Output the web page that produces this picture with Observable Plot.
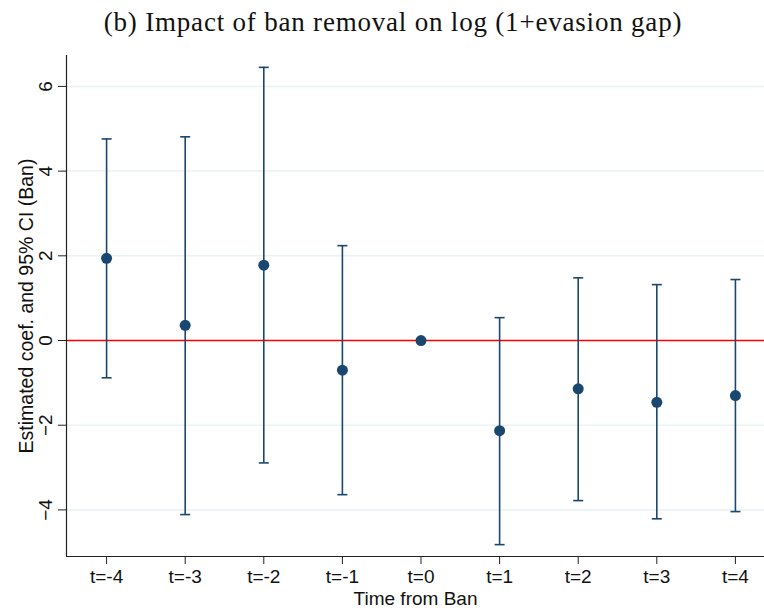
<!DOCTYPE html>
<html>
<head>
<meta charset="utf-8">
<script src="https://cdn.jsdelivr.net/npm/d3@7"></script>
<script src="https://cdn.jsdelivr.net/npm/@observablehq/plot@0.6"></script>
<style>
  html, body { margin: 0; padding: 0; background: #fff; }
  #wrap { position: relative; width: 764px; height: 608px; overflow: hidden; }
  #title { position: absolute; left: 393px; top: 4px; transform: translateX(-50%);
    white-space: nowrap; font-family: "Liberation Serif", "Times New Roman", serif;
    font-size: 27px; letter-spacing: 0.8px; color: #111; line-height: 36px; }
  #chart { position: absolute; left: 0; top: 44px; }
</style>
</head>
<body>
<div id="wrap">
  <div id="title">(b) Impact of ban removal on log (1+evasion gap)</div>
  <div id="chart"></div>
</div>
<script>
const periods = [-4, -3, -2, -1, 0, 1, 2, 3, 4];
const coef    = [1.94, 0.36, 1.78, -0.70, 0, -2.13, -1.14, -1.46, -1.30];
const ciLow   = [-0.88, -4.11, -2.89, -3.64, null, -4.82, -3.78, -4.21, -4.04];
const ciHigh  = [4.76, 4.81, 6.45, 2.24, null, 0.54, 1.48, 1.32, 1.44];
const yTicks  = [-4, -2, 0, 2, 4, 6];
const xDomain = [-4.51, 4.37];
const yDomain = [-5.10, 6.73];
const yLabel = "Estimated coef. and 95% CI (Ban)";
const xLabel = "Time from Ban";

const navy = "#1a476f";
const data = periods.map((t, i) => ({t, coef: coef[i], lo: ciLow[i], hi: ciHigh[i]}));
const ci = data.filter(d => d.lo != null);

const capSymbol = {
  draw(context) { context.moveTo(-5, 0); context.lineTo(5, 0); }
};

const chart = Plot.plot({
  width: 764,
  height: 564,
  marginLeft: 66,
  marginRight: 0,
  marginTop: 11,
  marginBottom: 52,
  x: {domain: xDomain},
  y: {domain: yDomain},
  style: {fontFamily: "'Liberation Sans', Arial, sans-serif", fontSize: "19px", background: "white", color: "#111"},
  marks: [
    Plot.gridY(yTicks, {stroke: "#eaf2f3", strokeOpacity: 1, strokeWidth: 1.5}),
    Plot.ruleY([0], {stroke: "#ff0000", strokeWidth: 1.6}),
    Plot.ruleX(ci, {x: "t", y1: "lo", y2: "hi", stroke: navy, strokeWidth: 1.6}),
    Plot.dot(ci, {x: "t", y: "lo", symbol: capSymbol, stroke: navy, strokeWidth: 1.6}),
    Plot.dot(ci, {x: "t", y: "hi", symbol: capSymbol, stroke: navy, strokeWidth: 1.6}),
    Plot.dot(data, {x: "t", y: "coef", r: 5.5, fill: navy, stroke: "none"}),
    Plot.ruleX([xDomain[0]], {stroke: "#222", strokeWidth: 1.2}),
    Plot.ruleY([yDomain[0]], {stroke: "#222", strokeWidth: 1.2}),
    Plot.axisY(yTicks, {tickSize: 8, tickRotate: -90, tickPadding: 7, stroke: "#222", fontSize: 19, label: null}),
    Plot.axisX(periods, {tickSize: 8, tickPadding: 5, stroke: "#222", fontSize: 19, label: null, tickFormat: d => `t=${d}`}),
    Plot.text([yLabel], {text: d => d, frameAnchor: "left", rotate: -90, dx: -34, textAnchor: "middle", lineAnchor: "bottom", fontSize: 19.5, fill: "#111"}),
    Plot.text([xLabel], {text: d => d, frameAnchor: "bottom", dy: 48, textAnchor: "middle", lineAnchor: "bottom", fontSize: 19, fill: "#111"})
  ]
});
document.getElementById("chart").appendChild(chart);
</script>
</body>
</html>
